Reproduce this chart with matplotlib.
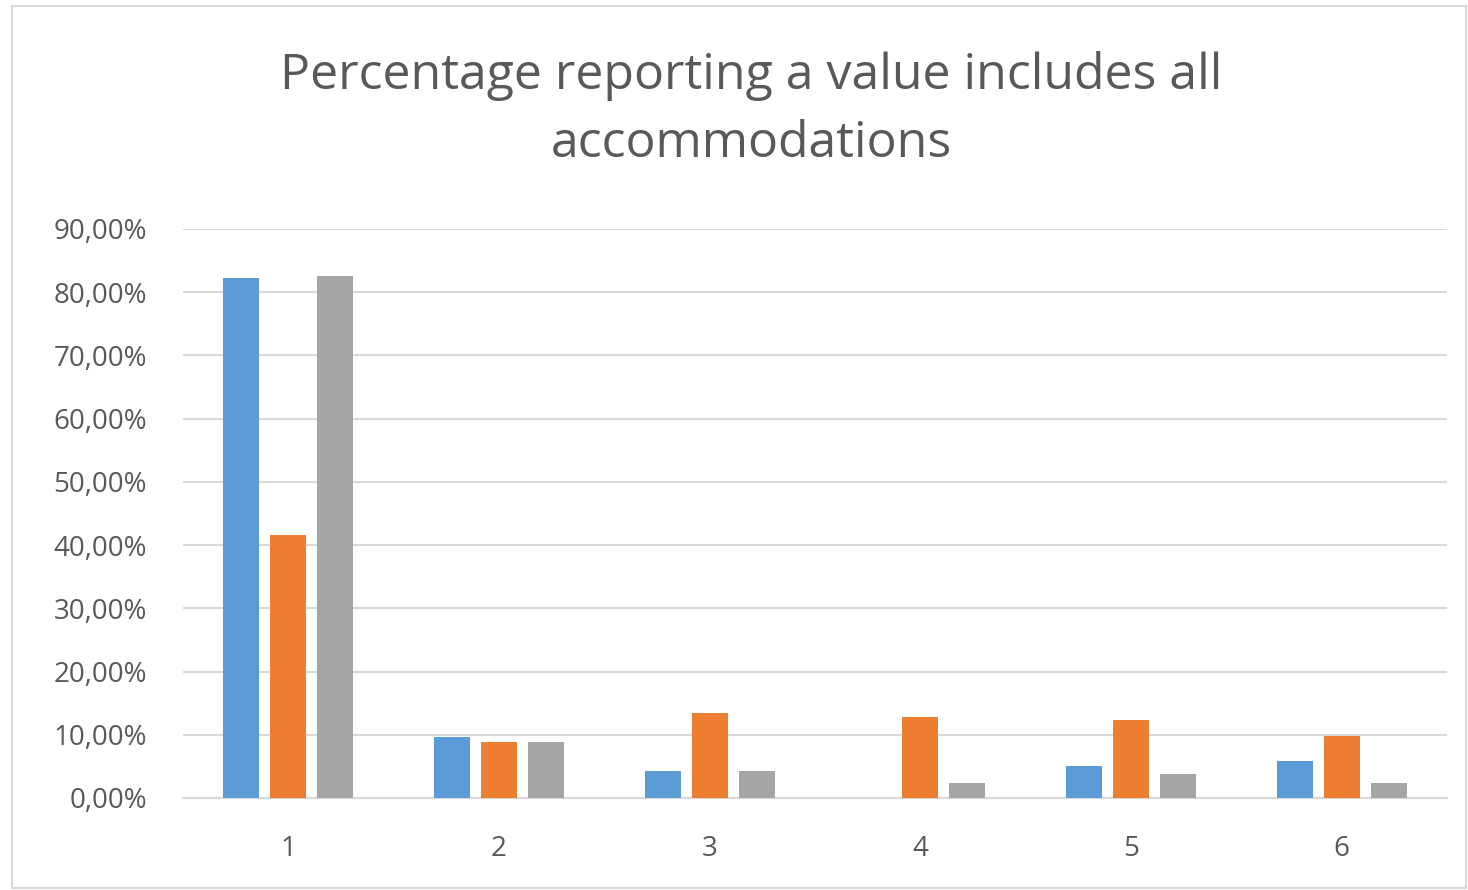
import numpy as np
import matplotlib.pyplot as plt
from matplotlib.patches import Rectangle

categorias = ['1', '2', '3', '4', '5', '6']
serie_azul = [0.822, 0.097, 0.042, 0.0, 0.050, 0.058]
serie_laranja = [0.416, 0.089, 0.135, 0.128, 0.124, 0.098]
serie_cinza = [0.825, 0.089, 0.042, 0.023, 0.038, 0.023]
yticks = [0.0, 0.1, 0.2, 0.3, 0.4, 0.5, 0.6, 0.7, 0.8, 0.9]

plt.rcParams['font.family'] = ['Open Sans', 'DejaVu Sans']

fig = plt.figure(figsize=(14.68, 8.90), dpi=100)
ax = fig.add_axes([183/1468, 1 - 798/890, (1447-183)/1468, (798-229)/890])

x = np.arange(1, len(categorias) + 1)
largura = 0.172
passo = 0.223
ax.bar(x - passo, serie_azul, largura, color='#5B9BD5', zorder=3)
ax.bar(x, serie_laranja, largura, color='#ED7D31', zorder=3)
ax.bar(x + passo, serie_cinza, largura, color='#A5A5A5', zorder=3)

ax.set_xlim(0.5, 6.5)
ax.set_ylim(0, 0.9)
ax.set_yticks(yticks)
ax.set_yticklabels([('%.2f%%' % (v*100)).replace('.', ',') for v in yticks])
ax.set_xticks(x)
ax.set_xticklabels(categorias)
ax.yaxis.grid(True, color='#D9D9D9', linewidth=1.5, zorder=0)
ax.tick_params(axis='both', length=0, labelsize=20, labelcolor='#595959')
ax.tick_params(axis='y', pad=26)
ax.tick_params(axis='x', pad=27)
for lado in ['top', 'right', 'left']:
    ax.spines[lado].set_visible(False)
ax.spines['bottom'].set_color('#D9D9D9')
ax.spines['bottom'].set_linewidth(1.5)

fig.text(0.512, 1 - 110/890, 'Percentage reporting a value includes all\naccommodations',
         ha='center', va='center', fontsize=36, color='#595959', linespacing=1.5)

fig.patches.append(Rectangle((12/1468, 0.002), (1466-12)/1468, 1 - 6/890 - 0.002,
                             transform=fig.transFigure, fill=False,
                             edgecolor='#D9D9D9', linewidth=1.5))

fig.savefig('out.png', dpi=100)
